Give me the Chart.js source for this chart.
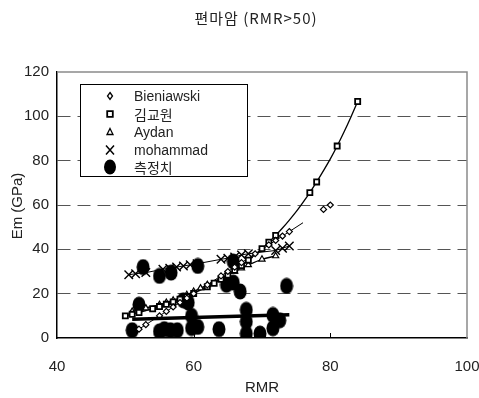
<!DOCTYPE html>
<html>
<head>
<meta charset="utf-8">
<script src="https://cdn.jsdelivr.net/npm/chart.js@4/dist/chart.umd.min.js"></script>
<style>
  body { margin: 0; background: #fff; }
  #wrap { width: 479px; height: 398px; }
</style>
</head>
<body>
<div id="wrap"><canvas id="chart" width="479" height="398"></canvas></div>
<script>
// ── Data ──────────────────────────────────────────────────────
const titleText = '편마암 (RMR>50)';
const xTitle    = 'RMR';
const yTitle    = 'Em (GPa)';
const xTicks    = [40, 60, 80, 100];
const yTicks    = [0, 20, 40, 60, 80, 100, 120];

const bieniawskiX = [52, 53, 55, 56, 57, 58, 59, 60, 62, 64, 65, 66, 67, 69, 71, 72, 73, 74, 79, 80];
const bieniawskiY = [4, 6, 10, 12, 14, 16, 18, 20, 24, 28, 30, 32, 34, 38, 42, 44, 46, 48, 58, 60];
const bieniawskiLineX = [51, 76];
const bieniawskiLineY = [2, 52];

const kimX = [50, 51, 52, 54, 55, 56, 57, 58, 59, 60, 62, 63, 64, 65, 66, 67, 68, 70, 71, 72, 77, 78, 81, 84];
const kimY = [10, 10.7, 11.5, 13.2, 14.2, 15.2, 16.3, 17.5, 18.7, 20.1, 23.1, 24.7, 26.5, 28.4, 30.5, 32.7, 35.1, 40.3, 43.2, 46.3, 65.6, 70.4, 86.6, 106.7];
// fitted curve through the 김교원 points
const kimLineX = [50, 54, 58, 62, 66, 70, 72, 73, 74, 75, 76, 77, 78, 79, 80, 81, 82, 83, 84];
const kimLineY = [10, 13.2, 17.5, 23.1, 30.5, 40.3, 46.3, 49.6, 53.2, 57, 61.2, 65.6, 70.4, 75.5, 80.8, 86.6, 92.9, 99.6, 106.7];

const aydanX = [51, 53, 55, 56, 57, 58, 59, 60, 61, 62, 64, 65, 66, 67, 68, 70, 72];
const aydanY = [12, 13.5, 15, 16, 17, 18, 19.5, 21, 22.5, 24, 27, 28.5, 30, 31.5, 33, 35.5, 37];

const mohammadX = [50.5, 51.5, 53, 55.5, 56.5, 57.5, 58.5, 59.5, 60.5, 64, 65, 66, 67, 68, 72, 73, 74];
const mohammadY = [28.5, 29, 29.5, 31, 31.5, 32, 32.5, 33, 33.5, 35.5, 36, 36.5, 37.5, 38, 39.5, 40.5, 41.5];

const measuredX = [51, 52, 52.6, 55, 55, 55.7, 56.6, 56.7, 57.6, 58.5, 59.2, 59.7, 59.7, 60.6, 60.6, 63.7, 64.8, 65.8, 65.8, 66.8, 67.7, 67.7, 67.7, 69.7, 71.6, 71.6, 72.6, 73.6];
const measuredY = [3.5, 15, 32, 28, 3, 4, 3.5, 29.5, 3.5, 17, 16, 10, 4.5, 32.5, 5, 4, 24, 25, 34.5, 21, 12.7, 7.4, 2, 2, 10.4, 4.4, 8, 23.5];
const measuredLineX = [51, 74];
const measuredLineY = [8.5, 10.5];

const legendLabels = ['Bieniawski', '김교원', 'Aydan', 'mohammad', '측정치'];

const pts = (xs, ys) => xs.map((x, i) => ({ x, y: ys[i] }));

// filled ellipse marker (taller than wide, like the reference)
const blob = document.createElement('canvas');
blob.width = 14; blob.height = 17;
{
  const c = blob.getContext('2d');
  c.fillStyle = '#000';
  c.beginPath();
  c.ellipse(7, 8.5, 6.5, 8, 0, 0, Math.PI * 2);
  c.fill();
}

const FONT = "'Liberation Sans Narrow', 'Liberation Sans', Arial, sans-serif";

// ── Decorations: titles, border, legend ──────────────────────
function drawMarker(ctx, kind, x, y) {
  ctx.save();
  ctx.strokeStyle = '#000';
  ctx.fillStyle = '#000';
  ctx.lineWidth = 1.3;
  ctx.beginPath();
  if (kind === 0) {
    ctx.moveTo(x, y - 3.5); ctx.lineTo(x + 2.5, y); ctx.lineTo(x, y + 3.5); ctx.lineTo(x - 2.5, y); ctx.closePath();
    ctx.stroke();
  } else if (kind === 1) {
    ctx.lineWidth = 1.8;
    ctx.rect(x - 2.8, y - 2.8, 5.6, 5.6);
    ctx.stroke();
  } else if (kind === 2) {
    ctx.moveTo(x, y - 3.5); ctx.lineTo(x + 3, y + 2.5); ctx.lineTo(x - 3, y + 2.5); ctx.closePath();
    ctx.stroke();
  } else if (kind === 3) {
    ctx.lineWidth = 1.5;
    ctx.moveTo(x - 4, y - 4.5); ctx.lineTo(x + 4, y + 4.5);
    ctx.moveTo(x + 4, y - 4.5); ctx.lineTo(x - 4, y + 4.5);
    ctx.stroke();
  } else {
    ctx.ellipse(x, y, 6, 7.5, 0, 0, Math.PI * 2);
    ctx.fill();
  }
  ctx.restore();
}

const decor = {
  id: 'decor',
  afterDraw(chart) {
    const { ctx, chartArea: a, scales } = chart;
    ctx.save();

    // top / right frame
    ctx.strokeStyle = '#8a8a8a';
    ctx.lineWidth = 1.5;
    ctx.beginPath();
    ctx.moveTo(a.left, a.top); ctx.lineTo(a.right, a.top); ctx.lineTo(a.right, a.bottom);
    ctx.stroke();

    // inward ticks on x axis
    ctx.strokeStyle = '#000';
    ctx.lineWidth = 1;
    for (const v of [60, 80]) {
      const px = Math.round(scales.x.getPixelForValue(v)) + 0.5;
      ctx.beginPath(); ctx.moveTo(px, a.bottom); ctx.lineTo(px, a.bottom - 5); ctx.stroke();
    }

    // titles
    ctx.fillStyle = '#222';
    ctx.textAlign = 'center';
    ctx.textBaseline = 'middle';
    ctx.font = "15px 'Noto Sans CJK KR', sans-serif";
    ctx.letterSpacing = '1px';
    ctx.fillText(titleText, (a.left + a.right) / 2 - 6, 18);
    ctx.letterSpacing = '0px';
    ctx.font = '15px ' + FONT;
    ctx.fillText(xTitle, (a.left + a.right) / 2, 388);
    ctx.save();
    ctx.translate(18, 206);
    ctx.rotate(-Math.PI / 2);
    ctx.font = "15px 'Liberation Sans', Arial, sans-serif";
    ctx.fillText(yTitle, 0, 0);
    ctx.restore();

    // legend box
    ctx.fillStyle = '#fff';
    ctx.fillRect(80.5, 84.5, 167, 92);
    ctx.strokeStyle = '#000';
    ctx.lineWidth = 1;
    ctx.strokeRect(80.5, 84.5, 167, 92);
    const rows = [96, 114, 132, 150, 167];
    ctx.textAlign = 'left';
    ctx.fillStyle = '#222';
    legendLabels.forEach((lbl, i) => {
      drawMarker(ctx, i, 110, rows[i]);
      ctx.font = (i === 1 || i === 4) ? "14px 'Noto Sans CJK KR', sans-serif" : '14px ' + FONT;
      ctx.fillText(lbl, 134, rows[i] + 1);
    });
    ctx.restore();
  }
};

// ── Chart ─────────────────────────────────────────────────────
const lineBase = { type: 'line', borderColor: '#000', pointRadius: 0, fill: false, order: 5 };
const markBase = { type: 'scatter', borderColor: '#000', backgroundColor: '#fff', order: 1 };

new Chart(document.getElementById('chart'), {
  data: {
    datasets: [
      { ...lineBase, data: pts(bieniawskiLineX, bieniawskiLineY), borderWidth: 1 },
      { ...lineBase, data: pts(kimLineX, kimLineY), borderWidth: 1.3, cubicInterpolationMode: 'monotone' },
      { ...lineBase, data: pts(aydanX, aydanY), borderWidth: 1.3, cubicInterpolationMode: 'monotone' },
      { ...lineBase, data: pts(mohammadX, mohammadY), borderWidth: 1 },
      { ...lineBase, data: pts(measuredLineX, measuredLineY), borderWidth: 3.5, order: 0 },
      { ...markBase, data: pts(bieniawskiX, bieniawskiY), pointStyle: 'rectRot', pointRadius: 3, borderWidth: 1.2 },
      { ...markBase, data: pts(kimX, kimY), pointStyle: 'rect', pointRadius: 3.6, borderWidth: 1.8 },
      { ...markBase, data: pts(aydanX, aydanY), pointStyle: 'triangle', pointRadius: 3.5, borderWidth: 1.2 },
      { ...markBase, data: pts(mohammadX, mohammadY), pointStyle: 'crossRot', pointRadius: 6, borderWidth: 1.4 },
      { ...markBase, data: pts(measuredX, measuredY), pointStyle: blob, order: 2 },
    ],
  },
  options: {
    responsive: false,
    animation: false,
    layout: { padding: { top: 72, right: 12, left: 0, bottom: 0 } },
    plugins: { legend: { display: false }, tooltip: { enabled: false } },
    scales: {
      x: {
        type: 'linear', min: 40, max: 100,
        afterFit: s => { s.height = 60; s.paddingLeft = 0; s.paddingRight = 0; },
        afterBuildTicks: s => { s.ticks = xTicks.map(v => ({ value: v })); },
        grid: { display: false, drawTicks: false },
        border: { display: true, color: '#000', width: 1.5 },
        ticks: { padding: 20, color: '#222', font: { family: FONT, size: 15 } },
      },
      y: {
        type: 'linear', min: 0, max: 120,
        afterFit: s => { s.width = 57; s.paddingTop = 0; s.paddingBottom = 0; },
        afterBuildTicks: s => { s.ticks = yTicks.map(v => ({ value: v })); },
        grid: {
          drawTicks: false,
          color: c => (c.tick.value === 0 || c.tick.value === 120) ? 'rgba(0,0,0,0)' : '#555',
        },
        border: { display: true, color: '#000', width: 1.5, dash: [13, 7] },
        ticks: { padding: 8, color: '#222', font: { family: FONT, size: 15 } },
      },
    },
  },
  plugins: [decor],
});
</script>
</body>
</html>
